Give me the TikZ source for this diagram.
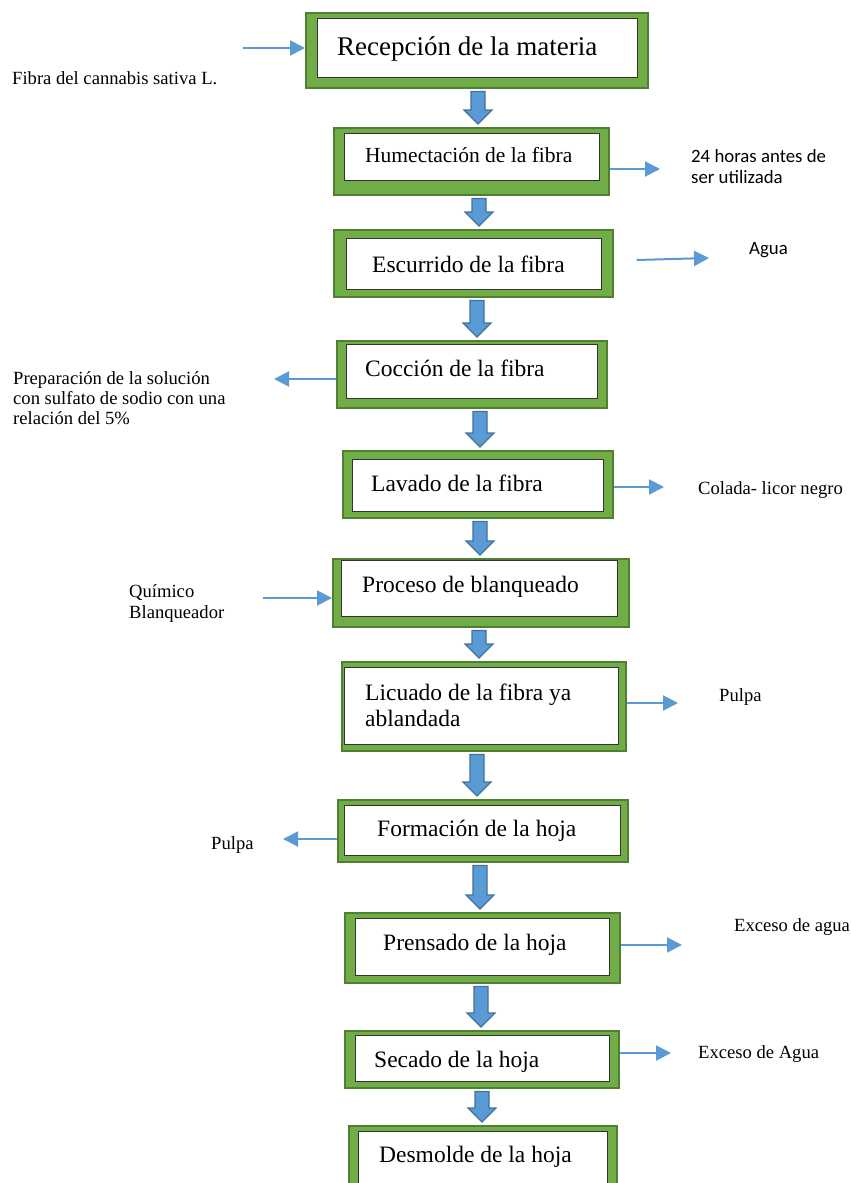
\documentclass[tikz,border=0pt]{standalone}
\usepackage{fontspec}
\setmainfont{Liberation Serif}
\newfontfamily\calibri{Carlito}
\usetikzlibrary{arrows.meta,calc}

\definecolor{framegreen}{HTML}{70AD47}
\definecolor{framedark}{HTML}{507E32}
\definecolor{arrowblue}{HTML}{5B9BD5}
\definecolor{arrowdark}{HTML}{41719C}

\tikzset{
  frame/.style={draw=framedark, fill=framegreen, line width=1.5pt, inner sep=0pt, anchor=north west},
  panel/.style={draw=black!80, fill=white, line width=0.8pt, inner sep=0pt, anchor=north west},
  steptext/.style={anchor=base west, inner sep=0pt, font=\fontsize{23.5}{26}\selectfont, align=left},
  note/.style={anchor=base west, inner sep=0pt, font=\fontsize{18.6}{20}\selectfont, align=left},
  flow/.style={draw=arrowblue, line width=2pt, -{Triangle[length=15pt,width=15pt]}},
  fat/.style={fill=arrowblue, draw=arrowdark, line width=1.2pt, line join=miter},
}

% process step: name, outer frame (x1,y1,x2,y2), white panel (x1,y1,x2,y2)
\newcommand\processbox[9]{%
  \node[frame, minimum width={#4-#2}, minimum height={#5-#3}] (#1) at (#2,#3) {};
  \node[panel, minimum width={#8-#6}, minimum height={#9-#7}] (#1i) at (#6,#7) {};
}
% thick downward block arrow at x=#1 between frame #2 and frame #3
\newcommand\fatdown[3]{%
  \draw[fat] let \p1=(#2.south), \p2=(#3.north) in
    (#1pt-7pt,\y1-3pt) -- (#1pt+7pt,\y1-3pt) -- (#1pt+7pt,\y2+17pt)
    -- (#1pt+14pt,\y2+17pt) -- (#1pt,\y2+3pt) -- (#1pt-14pt,\y2+17pt)
    -- (#1pt-7pt,\y2+17pt) -- cycle;}

\begin{document}
\begin{tikzpicture}[x=1pt,y=-1pt]
\useasboundingbox (0,0) rectangle (851,1183);
\fill[white] (0,0) rectangle (851,1183);
\clip (0,0) rectangle (851,1183);

% process steps
\processbox{f1}{305}{12}{647}{87}{317}{18}{637}{77}
\processbox{f2}{333}{127}{608}{194}{344}{133}{599}{180}
\processbox{f3}{333}{229}{612}{296}{346}{238}{601}{289}
\processbox{f4}{336}{340}{606}{407}{346}{344}{597}{398}
\processbox{f5}{342}{450}{612}{517}{352}{459}{603}{511}
\processbox{f6}{332}{558}{628}{626}{341}{560}{617}{616}
\processbox{f7}{341}{661}{625}{750}{344}{667}{618}{744}
\processbox{f8}{337}{799}{627}{861}{344}{805}{620}{855}
\processbox{f9}{344}{912}{619}{982}{355}{918}{609}{975}
\processbox{f10}{344}{1030}{618}{1087}{355}{1035}{609}{1081}
\processbox{f11}{348}{1125}{616}{1200}{358}{1131}{607}{1195}

% step labels (multi-line labels are placed by their last baseline)
\node[steptext, font=\fontsize{27}{30}\selectfont] (t1) at (337,55) {Recepción de la materia};
\node[steptext, font=\fontsize{21.5}{24}\selectfont] (t2) at (365,162) {Humectación de la fibra};
\node[steptext] (t3) at (372,272) {Escurrido de la fibra};
\node[steptext] (t4) at (365,376) {Cocción de la fibra};
\node[steptext] (t5) at (371,491) {Lavado de la fibra};
\node[steptext] (t6) at (362,592) {Proceso de blanqueado};
\node[steptext] (t7) at (365,726) {Licuado de la fibra ya\\ablandada};
\node[steptext] (t8) at (377,836) {Formación de la hoja};
\node[steptext] (t9) at (383,950) {Prensado de la hoja};
\node[steptext] (t10) at (374,1067) {Secado de la hoja};
\node[steptext] (t11) at (379,1162) {Desmolde de la hoja};

% block arrows between steps
\fatdown{478}{f1}{f2}
\fatdown{479}{f2}{f3}
\fatdown{477}{f3}{f4}
\fatdown{480}{f4}{f5}
\fatdown{480}{f5}{f6}
\fatdown{479}{f6}{f7}
\fatdown{477}{f7}{f8}
\fatdown{480}{f8}{f9}
\fatdown{481}{f9}{f10}
\fatdown{482}{f10}{f11}

% side notes
\node[note] (n1) at (12,84) {Fibra del cannabis sativa L.};
\node[note, font=\calibri\fontsize{18.8}{21}\selectfont] (n2) at (691,183) {24 horas antes de\\ser utilizada};
\node[note, font=\calibri\fontsize{18.8}{21}\selectfont] (n3) at (749,254) {Agua};
\node[note] (n4) at (13,424) {Preparación de la solución\\con sulfato de sodio con una\\relación del 5\%};
\node[note] (n5) at (698,494) {Colada- licor negro};
\node[note, font=\fontsize{18.6}{21}\selectfont] (n6) at (129,618) {Químico\\Blanqueador};
\node[note] (n7) at (719,701) {Pulpa};
\node[note] (n8) at (211,849) {Pulpa};
\node[note] (n9) at (734,931) {Exceso de agua};
\node[note] (n10) at (698,1058) {Exceso de Agua};

% free ends of the side arrows
\coordinate (s1) at (243,48);
\coordinate (e2) at (660,169);
\coordinate (e3) at (709,258);
\coordinate (e4) at (274,379);
\coordinate (e5) at (664,487);
\coordinate (s6) at (263,598);
\coordinate (e7) at (678,703);
\coordinate (e8) at (283,839);
\coordinate (e9) at (682,945);
\coordinate (e10) at (671,1053);

\draw[flow] (s1) -- (f1.west |- s1);
\draw[flow] (f2.east |- e2) -- (e2);
\draw[flow] (f3.east |- e3) ++(23,2) -- (e3);
\draw[flow] (f4.west |- e4) -- (e4);
\draw[flow] (f5.east |- e5) -- (e5);
\draw[flow] (s6) -- (f6.west |- s6);
\draw[flow] (f7.east |- e7) -- (e7);
\draw[flow] (f8.west |- e8) -- (e8);
\draw[flow] (f9.east |- e9) -- (e9);
\draw[flow] (f10.east |- e10) -- (e10);
\end{tikzpicture}
\end{document}
